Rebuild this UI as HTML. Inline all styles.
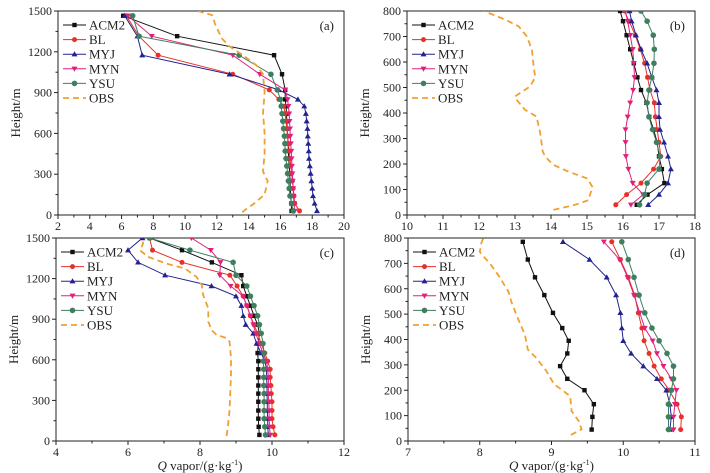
<!DOCTYPE html>
<html><head><meta charset="utf-8">
<style>
html,body{margin:0;padding:0;background:#fff;}
svg{display:block;font-family:"Liberation Serif",serif;}
</style></head>
<body>
<svg id="chart" width="710" height="473" viewBox="0 0 710 473" xmlns="http://www.w3.org/2000/svg"></svg>
<script>
// ---------- Panel (a) ----------
const levelsA = [30,85,140,195,250,305,360,415,470,525,580,635,690,745,800,850,920,1035,1175,1315,1465];
const acm2A = [16.7,16.68,16.65,16.62,16.6,16.58,16.55,16.52,16.5,16.48,16.45,16.42,16.4,16.38,16.35,16.3,16.3,16.1,15.6,9.5,6.1];
const blA   = [17.2,16.9,16.85,16.8,16.75,16.7,16.65,16.6,16.55,16.5,16.45,16.4,16.35,16.3,16.2,15.9,15.3,13.0,8.3,7.1,6.3];
const myjA  = [18.3,18.15,18.05,18.0,17.95,17.9,17.85,17.8,17.78,17.75,17.72,17.7,17.65,17.6,17.5,17.1,15.9,12.8,7.3,7.0,6.2];
const mynA  = [16.9,16.85,16.82,16.8,16.77,16.75,16.72,16.7,16.68,16.65,16.62,16.6,16.57,16.55,16.5,16.45,16.3,14.7,13.0,7.9,6.4];
const ysuA  = [16.8,16.7,16.6,16.55,16.5,16.45,16.4,16.35,16.3,16.28,16.25,16.2,16.15,16.1,16.05,16.0,15.8,15.4,13.4,7.1,6.7];
const obsHA = [20,40,80,150,250,320,450,600,750,900,1035,1100,1170,1240,1300,1400,1470,1500];
const obsA  = [13.6,13.8,14.3,15.0,15.2,14.9,15.0,15.0,14.9,15.0,14.9,14.5,13.7,12.8,12.3,11.9,11.7,10.8];
// ---------- Panel (b) ----------
const levelsB = [40,80,125,180,230,285,335,385,440,490,540,595,650,705,760,800];
const acm2B = [16.38,16.68,17.15,17.08,17.0,16.95,16.85,16.73,16.65,16.5,16.4,16.3,16.2,16.1,16.0,15.92];
const blB   = [15.8,16.1,16.5,16.85,17.05,17.0,16.95,16.9,16.87,16.75,16.68,16.6,16.48,16.34,16.17,16.04];
const myjB  = [16.7,17.0,17.25,17.33,17.25,17.14,17.03,17.0,17.0,16.93,16.8,16.67,16.5,16.36,16.24,16.18];
const mynB  = [16.22,16.56,16.27,16.15,16.08,16.07,16.07,16.13,16.2,16.28,16.32,16.3,16.27,16.2,16.13,16.06];
const ysuB  = [16.46,16.6,16.67,17.0,17.03,16.93,16.82,16.72,16.67,16.72,16.8,16.86,16.87,16.84,16.67,16.5];
const obsHB = [20,40,58,110,143,170,196,229,249,321,386,412,451,465,504,540,582,648,700,740,766,800];
const obsB  = [14.07,14.67,15.04,15.15,15.01,14.49,14.07,13.84,13.77,13.7,13.6,13.28,13.05,13.0,13.42,13.56,13.52,13.47,13.33,13.1,12.73,12.13];
// ---------- Panel (c) ----------
const levelsC = [45,105,165,225,290,350,410,470,530,590,650,720,795,860,925,1000,1070,1145,1225,1320,1410,1500];
const acm2C = [9.65,9.63,9.62,9.62,9.62,9.62,9.62,9.62,9.62,9.62,9.6,9.62,9.65,9.6,9.5,9.4,9.3,9.2,9.15,8.33,7.5,6.6];
const blC   = [10.08,10.03,10.0,10.0,10.0,9.98,9.97,9.95,9.95,9.88,9.8,9.7,9.6,9.5,9.4,9.3,9.2,9.03,8.83,7.5,6.68,6.6];
const myjC  = [9.9,9.88,9.88,9.87,9.87,9.86,9.86,9.85,9.85,9.8,9.7,9.57,9.48,9.27,9.2,9.15,9.0,8.32,7.03,6.28,6.0,6.4];
const mynC  = [9.95,9.93,9.92,9.92,9.91,9.9,9.9,9.9,9.88,9.85,9.75,9.65,9.55,9.48,9.4,9.3,9.2,8.85,8.55,8.57,8.3,7.76];
const ysuC  = [9.82,9.8,9.78,9.78,9.78,9.78,9.77,9.77,9.77,9.76,9.78,9.75,9.7,9.65,9.6,9.5,9.4,9.3,9.0,8.92,7.72,6.6];
const obsHC = [37,123,220,490,613,735,760,784,821,882,980,1078,1152,1213,1275,1311,1360,1409,1458,1500];
const obsC  = [8.74,8.78,8.82,8.86,8.86,8.82,8.74,8.46,8.32,8.23,8.23,8.09,8.05,7.9,7.58,7.07,6.56,6.33,6.42,6.38];
// ---------- Panel (d) ----------
const levelsD = [45,95,145,200,245,295,345,395,445,505,575,645,715,785];
const acm2D = [9.56,9.57,9.59,9.46,9.22,9.12,9.22,9.24,9.15,9.02,8.9,8.77,8.67,8.6];
const blD   = [10.8,10.81,10.75,10.64,10.53,10.43,10.36,10.29,10.26,10.21,10.16,10.07,9.96,9.84];
const myjD  = [10.65,10.67,10.65,10.6,10.47,10.28,10.11,10.0,9.98,9.96,9.9,9.77,9.53,9.16];
const mynD  = [10.7,10.7,10.72,10.74,10.67,10.56,10.47,10.41,10.3,10.23,10.15,10.06,9.95,9.73];
const ysuD  = [10.63,10.63,10.63,10.67,10.7,10.7,10.61,10.5,10.4,10.3,10.22,10.15,10.07,9.98];
const obsHD = [24,46,78,118,176,203,222,275,327,360,418,484,549,588,653,693,745,778,800];
const obsD  = [9.27,9.42,9.38,9.28,9.26,9.14,9.04,8.93,8.79,8.67,8.63,8.53,8.44,8.4,8.26,8.16,8.0,8.02,8.05];

const seriesNames = ["ACM2","BL","MYJ","MYN","YSU","OBS"];
const xTicksA = [2,4,6,8,10,12,14,16,18,20];
const yTicksA = [0,300,600,900,1200,1500];
const xTicksB = [10,11,12,13,14,15,16,17,18];
const yTicksB = [0,100,200,300,400,500,600,700,800];
const xTicksC = [4,6,8,10,12];
const xTicksD = [7,8,9,10,11];

const NS="http://www.w3.org/2000/svg";
const svg=document.getElementById('chart');
function mk(tag,attrs,parent){const e=document.createElementNS(NS,tag);for(const k in attrs)e.setAttribute(k,attrs[k]);(parent||svg).appendChild(e);return e;}

const styles=[
 {c:"#111",m:"square"},{c:"#e8302a",m:"circle"},{c:"#23238f",m:"tri"},
 {c:"#e0207a",m:"tridown"},{c:"#3f7f5f",m:"diamond"},{c:"#f0a030",m:"none"}];

function marker(g,type,x,y,c){
  let e;
  if(type==="square"){e=mk('rect',{x:x-2.2,y:y-2.2,width:4.4,height:4.4,fill:c},g);}
  else if(type==="circle"){e=mk('circle',{cx:x,cy:y,r:2.5,fill:c},g);}
  else if(type==="tri"){e=mk('polygon',{points:`${x},${y-3} ${x-3},${y+2.2} ${x+3},${y+2.2}`,fill:c},g);}
  else if(type==="tridown"){e=mk('polygon',{points:`${x},${y+3} ${x-3},${y-2.2} ${x+3},${y-2.2}`,fill:c},g);}
  else if(type==="diamond"){e=mk('circle',{cx:x,cy:y,r:2.8,fill:c},g);}
  if(e){}
}

function panel(p){
  const g=mk('g',{});
  
  
  const sx=v=>p.x0+(v-p.xd[0])/(p.xd[1]-p.xd[0])*(p.x1-p.x0);
  const sy=v=>p.y1-(v-p.yd[0])/(p.yd[1]-p.yd[0])*(p.y1-p.y0);
  const clipId='clip'+p.id;
  const cp=mk('clipPath',{id:clipId},g);mk('rect',{x:p.x0,y:p.y0,width:p.x1-p.x0,height:p.y1-p.y0},cp);
  // frame
  const fr=mk('rect',{x:p.x0,y:p.y0,width:p.x1-p.x0,height:p.y1-p.y0,fill:"none",stroke:"#222","stroke-width":1},g);
  
  // x ticks
  const xt=p.xt;
  for(let i=0;i<xt.length;i++){
    const x=sx(xt[i]);
    const tk=mk('line',{x1:x,y1:p.y1,x2:x,y2:p.y1+4,stroke:"#222"},g);
    
    const t=mk('text',{x:x,y:p.y1+15,'text-anchor':'middle','font-size':12,fill:"#222"},g);
    t.textContent=xt[i];
    
    if(i<xt.length-1){const xm=sx((xt[i]+xt[i+1])/2);mk('line',{x1:xm,y1:p.y1,x2:xm,y2:p.y1+2.5,stroke:"#222"},g);}
  }
  const yt=p.yt;
  for(let i=0;i<yt.length;i++){
    const y=sy(yt[i]);
    const tk=mk('line',{x1:p.x0-4,y1:y,x2:p.x0,y2:y,stroke:"#222"},g);
    
    const t=mk('text',{x:p.x0-6,y:y+4,'text-anchor':'end','font-size':12,fill:"#222"},g);
    t.textContent=yt[i];
    
    if(i<yt.length-1){const ym=sy((yt[i]+yt[i+1])/2);mk('line',{x1:p.x0-2.5,y1:ym,x2:p.x0,y2:ym,stroke:"#222"},g);}
  }
  // y title
  const yl=mk('text',{x:0,y:0,'text-anchor':'middle','font-size':13,fill:"#222",transform:`translate(${p.x0-38},${(p.y0+p.y1)/2}) rotate(-90)`},g);
  yl.textContent="Height/m";
  
  if(p.xlabel){
    const xl=mk('text',{x:(p.x0+p.x1)/2,y:p.y1+29,'text-anchor':'middle','font-size':13,fill:"#222"},g);
    xl.innerHTML='<tspan font-style="italic">Q</tspan> vapor/(g·kg<tspan dy="-5" font-size="8">-1</tspan><tspan dy="5">)</tspan>';
    
  }
  // series
  const dg=mk('g',{'clip-path':`url(#${clipId})`},g);
  for(let s=0;s<5;s++){
    const vals=p.series[s], st=styles[s];
    const pts=vals.map((v,i)=>sx(v).toFixed(1)+','+sy(p.levels[i]).toFixed(1)).join(' ');
    const pl=mk('polyline',{points:pts,fill:"none",stroke:st.c,'stroke-width':1},dg);
    
    
    vals.forEach((v,i)=>marker(dg,st.m,sx(v),sy(p.levels[i]),st.c));
  }
  const opts=p.obs.map((v,i)=>sx(v).toFixed(1)+','+sy(p.obsH[i]).toFixed(1)).join(' ');
  const ol=mk('polyline',{points:opts,fill:"none",stroke:"#f0a030",'stroke-width':1.8,'stroke-dasharray':"6,4"},dg);
  
  
  // legend
  const lg=mk('g',{},g);
  
  for(let s=0;s<6;s++){
    const y=p.y0+14+s*14.6, st=styles[s];
    const eg=mk('g',{},lg);
    
    
    if(s<5){mk('line',{x1:p.x0+5,y1:y,x2:p.x0+28,y2:y,stroke:st.c},eg);marker(eg,st.m,p.x0+16.5,y,st.c);}
    else mk('line',{x1:p.x0+5,y1:y,x2:p.x0+28,y2:y,stroke:st.c,'stroke-width':1.8,'stroke-dasharray':"6,4"},eg);
    const t=mk('text',{x:p.x0+31,y:y+4.5,'font-size':13,fill:"#222"},eg);
    t.textContent=seriesNames[s];
  }
  const pl=mk('text',{x:p.x1-10,y:p.y0+19,'text-anchor':'end','font-size':13,fill:"#222"},g);
  pl.textContent='('+p.id+')';
  
}

panel({id:'a',x0:58,x1:344,y0:11,y1:215,xd:[2,20],yd:[0,1500],xt:xTicksA,yt:yTicksA,levels:levelsA,series:[acm2A,blA,myjA,mynA,ysuA],obs:obsA,obsH:obsHA});
panel({id:'b',x0:407,x1:695,y0:11,y1:215,xd:[10,18],yd:[0,800],xt:xTicksB,yt:yTicksB,levels:levelsB,series:[acm2B,blB,myjB,mynB,ysuB],obs:obsB,obsH:obsHB});
panel({id:'c',x0:56,x1:344,y0:238,y1:441,xd:[4,12],yd:[0,1500],xt:xTicksC,yt:yTicksA,levels:levelsC,series:[acm2C,blC,myjC,mynC,ysuC],obs:obsC,obsH:obsHC,xlabel:true});
panel({id:'d',x0:408,x1:695,y0:238,y1:441,xd:[7,11],yd:[0,800],xt:xTicksD,yt:yTicksB,levels:levelsD,series:[acm2D,blD,myjD,mynD,ysuD],obs:obsD,obsH:obsHD,xlabel:true});
</script>
</body></html>
